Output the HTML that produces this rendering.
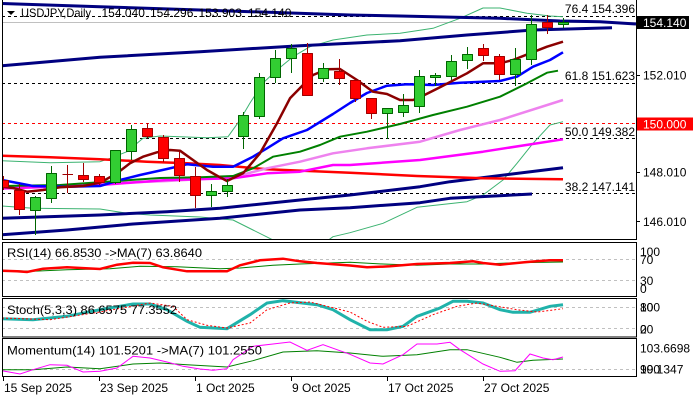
<!DOCTYPE html>
<html>
<head>
<meta charset="utf-8">
<style>
html,body{margin:0;padding:0;background:#fff;}
svg{display:block;}
text{font-family:"Liberation Sans",Arial,sans-serif;font-size:12px;fill:#000;}
</style>
</head>
<body>
<svg width="700" height="400" viewBox="0 0 700 400" xmlns="http://www.w3.org/2000/svg">
<defs>
<clipPath id="mc"><rect x="2" y="0" width="634" height="239.5"/></clipPath>
</defs>
<rect x="0" y="0" width="700" height="400" fill="#fff"/>

<g clip-path="url(#mc)" fill="none" stroke-linejoin="round">
  <!-- fib / level lines -->
  <line x1="2" y1="16.5" x2="636" y2="16.5" stroke="#000" stroke-dasharray="3,3"/>
  <line x1="2" y1="83.5" x2="636" y2="83.5" stroke="#000" stroke-dasharray="3,3"/>
  <line x1="2" y1="138.5" x2="636" y2="138.5" stroke="#000" stroke-dasharray="3,3"/>
  <line x1="2" y1="193.5" x2="636" y2="193.5" stroke="#000" stroke-dasharray="3,3"/>
  <line x1="2" y1="123.5" x2="636" y2="123.5" stroke="#FF0000" stroke-dasharray="3,3"/>
  <line x1="2" y1="22.5" x2="636" y2="22.5" stroke="#C0C0C0"/>

  <!-- bollinger-like thin lines -->
  <polyline stroke="#3CB371" stroke-width="1" points="2,160.7 50,162.7 100,161.7 110,158.3 127,151.7 143,138.3 160,136 207,137.7 228,136.7 240,120 250,103 263,83 277,70 293,56.7 310,46.7 333,40 367,35 400,33.3 433,28.3 460,18.3 483,8 500,8 527,13.3 550,16 563,16.7"/>
  <polyline stroke="#3CB371" stroke-width="1" points="2,206 33,208.3 100,209 127,213.3 150,215 200,217 233,220 253,230 273,240 290,250 315,250 333,236.7 350,232.7 383,223.3 417,207.3 467,201.7 483,195 503,180 517,163.3 533,143.3 550,125 563,121.7"/>

  <!-- navy channel lines -->
  <polyline stroke="#000080" stroke-width="3" points="2,3.5 100,6.7 200,10 350,15 400,16 500,18.3 560,21 600,21.7 636,24"/>
  <polyline stroke="#000080" stroke-width="3" points="2,65.7 100,57.3 200,51.7 300,45.7 350,43.3 400,40.7 467,35 533,30 612,27.7"/>
  <polyline stroke="#000080" stroke-width="3" points="2,218.3 100,215 167,211.7 220,208.3 300,200 350,195 420,186.7 450,181.7 563,167.7"/>
  <polyline stroke="#000080" stroke-width="3" points="2,234.7 67,230 133,224 220,218.3 300,210 350,207.7 420,202.7 450,198.3 532,194"/>

  <!-- MAs -->
  <polyline stroke="#FF0000" stroke-width="2.5" points="2,155.7 50,157.3 100,159.3 147,161.7 187,163.3 220,165 267,169.3 350,172.7 417,176 483,178.3 563,179.3"/>
  <polyline stroke="#EE82EE" stroke-width="2.5" points="2,188 100,183.5 167,181 233,177.3 267,168.3 300,161.7 333,153.3 367,148.3 420,141.7 460,130 500,120 563,100"/>
  <polyline stroke="#FF00FF" stroke-width="2.5" points="2,188.5 100,185 167,180 233,178.3 267,173.3 300,171.7 333,165 350,165 420,160 483,151.7 563,139.3"/>
  <polyline stroke="#008000" stroke-width="2" points="2,186 60,185 117,181 160,178 200,177.3 233,176 253,168.3 273,156.7 300,151.7 320,145 340,136.7 367,131.7 400,124 433,115 467,106.7 500,96.7 527,83.3 547,72.7 558,70.7"/>
  <polyline stroke="#0000FF" stroke-width="2.5" points="2,180 33,186 67,186.7 100,186 120,180 140,175 167,169 187,164.3 213,166.7 233,166.7 253,156.7 267,148.3 283,138.3 307,130 320,122 333,114 350,103 367,93 387,85.7 407,84.3 433,85 460,82.7 500,81 517,76.7 533,66.7 550,60 563,52.3"/>
  <polyline stroke="#8B0000" stroke-width="2.5" points="2,186.7 13,188 27,191.7 43,190 60,187.3 83,186 100,182.7 117,173.3 130,163.3 143,156.7 157,152.3 170,150 180,150.7 193,160 207,170 220,177.3 227,181 243,173.3 260,153.3 277,123.3 290,98.3 303,85 313,75 327,69.3 340,69 357,80 373,91.7 387,94 400,100 413,100 420,97.3 440,87.3 467,73.3 483,63.3 500,63.3 513,60 530,53.3 547,46.7 563,41.7"/>

  <!-- candles: wicks -->
  <g stroke="#A00000" stroke-width="1">
    <line x1="3.5" y1="176" x2="3.5" y2="190"/>
    <line x1="19.5" y1="184" x2="19.5" y2="215"/>
    <line x1="67.5" y1="165" x2="67.5" y2="193"/>
    <line x1="62.5" y1="174.5" x2="73" y2="174.5"/>
    <line x1="83.5" y1="163" x2="83.5" y2="182"/>
    <line x1="99.5" y1="174" x2="99.5" y2="185"/>
    <line x1="147.5" y1="123" x2="147.5" y2="138"/>
    <line x1="163.5" y1="135" x2="163.5" y2="162"/>
    <line x1="179.5" y1="151" x2="179.5" y2="182"/>
    <line x1="195.5" y1="167" x2="195.5" y2="208"/>
    <line x1="307.5" y1="43" x2="307.5" y2="96"/>
    <line x1="339.5" y1="59" x2="339.5" y2="85"/>
    <line x1="355.5" y1="80" x2="355.5" y2="102"/>
    <line x1="371.5" y1="98" x2="371.5" y2="119"/>
    <line x1="483.5" y1="44" x2="483.5" y2="61"/>
    <line x1="499.5" y1="54" x2="499.5" y2="80"/>
    <line x1="547.5" y1="15" x2="547.5" y2="34"/>
  </g>
  <g stroke="#006400" stroke-width="1">
    <line x1="35.5" y1="196" x2="35.5" y2="235"/>
    <line x1="51.5" y1="166" x2="51.5" y2="203"/>
    <line x1="115.5" y1="150" x2="115.5" y2="184"/>
    <line x1="131.5" y1="125" x2="131.5" y2="160"/>
    <line x1="211.5" y1="184" x2="211.5" y2="207"/>
    <line x1="227.5" y1="179" x2="227.5" y2="197"/>
    <line x1="243.5" y1="112" x2="243.5" y2="149"/>
    <line x1="259.5" y1="73" x2="259.5" y2="119"/>
    <line x1="275.5" y1="50" x2="275.5" y2="83"/>
    <line x1="291.5" y1="44" x2="291.5" y2="73"/>
    <line x1="323.5" y1="63" x2="323.5" y2="82"/>
    <line x1="387.5" y1="108" x2="387.5" y2="139"/>
    <line x1="403.5" y1="94" x2="403.5" y2="117"/>
    <line x1="419.5" y1="70" x2="419.5" y2="113"/>
    <line x1="435.5" y1="73" x2="435.5" y2="86"/>
    <line x1="451.5" y1="55" x2="451.5" y2="80"/>
    <line x1="467.5" y1="47" x2="467.5" y2="69"/>
    <line x1="515.5" y1="48" x2="515.5" y2="86"/>
    <line x1="531.5" y1="15" x2="531.5" y2="65"/>
    <line x1="563.5" y1="18" x2="563.5" y2="28"/>
  </g>
  <!-- candle bodies -->
  <g fill="#FF0000" stroke="#A00000" stroke-width="1">
    <rect x="-1.5" y="180.5" width="10" height="7"/>
    <rect x="14.5" y="190.5" width="10" height="19"/>
    <rect x="78.5" y="175.5" width="10" height="4"/>
    <rect x="94.5" y="176.5" width="10" height="6"/>
    <rect x="142.5" y="128.5" width="10" height="8"/>
    <rect x="158.5" y="137.5" width="10" height="21"/>
    <rect x="174.5" y="158.5" width="10" height="17"/>
    <rect x="190.5" y="176.5" width="10" height="19"/>
    <rect x="302.5" y="53.5" width="10" height="42"/>
    <rect x="334.5" y="71.5" width="10" height="7"/>
    <rect x="350.5" y="80.5" width="10" height="18"/>
    <rect x="366.5" y="98.5" width="10" height="15"/>
    <rect x="478.5" y="48.5" width="10" height="7"/>
    <rect x="494.5" y="56.5" width="10" height="18"/>
    <rect x="542.5" y="22.5" width="10" height="5"/>
  </g>
  <g fill="#32CD32" stroke="#006400" stroke-width="1">
    <rect x="30.5" y="197.5" width="10" height="13"/>
    <rect x="46.5" y="173.5" width="10" height="25"/>
    <rect x="110.5" y="150.5" width="10" height="32"/>
    <rect x="126.5" y="129.5" width="10" height="22"/>
    <rect x="206.5" y="191.5" width="10" height="4"/>
    <rect x="222.5" y="185.5" width="10" height="6"/>
    <rect x="238.5" y="115.5" width="10" height="21"/>
    <rect x="254.5" y="77.5" width="10" height="39"/>
    <rect x="270.5" y="58.5" width="10" height="19"/>
    <rect x="286.5" y="48.5" width="10" height="10"/>
    <rect x="318.5" y="68.5" width="10" height="10"/>
    <rect x="382.5" y="108.5" width="10" height="5"/>
    <rect x="398.5" y="105.5" width="10" height="7"/>
    <rect x="414.5" y="76.5" width="10" height="30"/>
    <rect x="430.5" y="75.5" width="10" height="2"/>
    <rect x="446.5" y="61.5" width="10" height="15"/>
    <rect x="462.5" y="54.5" width="10" height="6"/>
    <rect x="510.5" y="59.5" width="10" height="15"/>
    <rect x="526.5" y="24.5" width="10" height="35"/>
    <rect x="558.5" y="22.5" width="10" height="2"/>
  </g>
</g>

<!-- fib texts -->
<text x="635" y="13" text-anchor="end">76.4 154.396</text>
<text x="635" y="80" text-anchor="end">61.8 151.623</text>
<text x="635" y="136" text-anchor="end">50.0 149.382</text>
<text x="635" y="191" text-anchor="end">38.2 147.141</text>

<!-- header -->
<polygon points="7,11 15,11 11,15" fill="#000"/>
<text x="21" y="17" textLength="70" lengthAdjust="spacingAndGlyphs">USDJPY,Daily</text>
<text x="101.5" y="17">154.040</text>
<text x="150" y="17">154.296</text>
<text x="198.5" y="17">153.903</text>
<text x="248" y="17">154.140</text>

<!-- main frame -->
<g stroke="#000" stroke-width="1" fill="none">
  <line x1="2.5" y1="0" x2="2.5" y2="240"/>
  <line x1="636.5" y1="0" x2="636.5" y2="240"/>
  <line x1="2" y1="239.5" x2="637" y2="239.5"/>
  <line x1="636" y1="75.5" x2="640" y2="75.5"/>
  <line x1="636" y1="172.5" x2="640" y2="172.5"/>
  <line x1="636" y1="221.5" x2="640" y2="221.5"/>
</g>

<!-- right axis labels main -->
<text x="643" y="79.5">152.010</text>
<text x="643" y="176.5">148.010</text>
<text x="643" y="226">146.010</text>
<rect x="637" y="16" width="52" height="13" fill="#000"/>
<text x="643" y="27" style="fill:#fff">154.140</text>
<rect x="637" y="117.5" width="56" height="13" fill="#FF0000"/>
<text x="643" y="128.5" style="fill:#fff">150.000</text>

<!-- RSI panel -->
<line x1="2" y1="259.5" x2="636" y2="259.5" stroke="#C0C0C0" stroke-dasharray="3,3"/>
<line x1="2" y1="280.5" x2="636" y2="280.5" stroke="#C0C0C0" stroke-dasharray="3,3"/>
<polyline fill="none" stroke="#008000" stroke-width="1" points="2,270.3 33,271.3 67,269.7 110,268.7 140,266.3 177,266.7 220,268.7 240,268 273,265.3 300,264 350,262.2 383,264 417,265.3 450,264 483,264 517,262.7 563,262"/>
<polyline fill="none" stroke="#FF0000" stroke-width="2.5" points="2,270.7 17,271.3 27,272 43,268.7 67,267.3 100,269 117,264.7 133,262.7 150,263 163,267.3 187,271.3 227,271.3 240,265.3 260,260.3 283,258.7 300,261.3 317,263 350,265.5 367,267.3 390,266.3 417,264 450,263 473,261.3 483,263 500,264.7 527,262 550,260.3 563,260.3"/>
<rect x="2.5" y="242.5" width="634" height="54" fill="none" stroke="#000"/>
<text x="7" y="257" textLength="195" lengthAdjust="spacingAndGlyphs">RSI(14) 66.8530  -&gt;MA(7) 63.8640</text>
<text x="640" y="256">100</text>
<text x="640" y="264">70</text>
<text x="640" y="285">30</text>
<text x="640" y="293">0</text>

<!-- Stoch panel -->
<line x1="2" y1="307.5" x2="636" y2="307.5" stroke="#C0C0C0" stroke-dasharray="3,3"/>
<line x1="2" y1="328.5" x2="636" y2="328.5" stroke="#C0C0C0" stroke-dasharray="3,3"/>
<polyline fill="none" stroke="#20B2AA" stroke-width="3" points="2,318.7 33,319.7 67,316.3 100,309.7 133,304 150,304 167,309.7 187,321.3 200,327.3 227,328.7 250,314.7 267,303 283,300.7 317,304.7 333,309.7 350,319.7 370,329.7 387,329.7 403,326.3 417,316.3 440,308 453,301.3 467,301.3 483,303 500,309.7 513,312.3 530,312.3 550,306.3 563,304.7"/>
<polyline fill="none" stroke="#FF0000" stroke-width="1" stroke-dasharray="2,2" points="2,318 50,319.7 100,312 150,303 173,306.3 187,319.7 207,325.3 227,328 250,323 267,309.7 290,303 310,302 350,312 367,321.3 383,327.3 407,326.3 433,314.7 457,306.3 477,303 497,306.3 517,309.7 537,312 563,308.7"/>
<rect x="2.5" y="298.5" width="634" height="38.5" fill="none" stroke="#000"/>
<text x="7" y="314" textLength="170" lengthAdjust="spacingAndGlyphs">Stoch(5,3,3) 86.6575 77.3552</text>
<text x="640" y="311.5">100</text>
<text x="640" y="311.5">80</text>
<text x="640" y="333.5">20</text>
<text x="640" y="333.5">0</text>

<!-- Momentum panel -->
<line x1="2" y1="369.5" x2="636" y2="369.5" stroke="#C0C0C0" stroke-dasharray="3,3"/>
<polyline fill="none" stroke="#008000" stroke-width="1" points="2,369.7 33,369.7 67,367 100,368.7 133,364 160,363 187,364.7 227,367 253,360.7 283,352 317,350.7 350,353 383,356.3 417,354.7 450,349.7 467,349.7 500,357.3 517,362.3 533,360.3 563,359"/>
<polyline fill="none" stroke="#FF00FF" stroke-width="1" points="2,370.7 20,374 33,369.7 50,364.7 67,365.3 83,372 100,371.3 117,368 133,356.3 150,358 167,362 183,366.3 200,369 213,370.3 227,368.7 233,359.7 253,346.3 273,344 290,342 307,350.3 323,344.7 350,354.3 370,363 383,364 403,354.7 417,344 437,344 450,342.3 460,349.7 483,364 500,371.3 515,370.7 530,354 543,358 553,359.7 563,357"/>
<rect x="2.5" y="338.5" width="634" height="38" fill="none" stroke="#000"/>
<text x="7" y="354.5" textLength="255" lengthAdjust="spacingAndGlyphs">Momentum(14) 101.5201  -&gt;MA(7) 101.2550</text>
<text x="640" y="352.5">103.6698</text>
<text x="640" y="373.5">99.1347</text>
<text x="640" y="373.5">100</text>

<!-- x axis -->
<g stroke="#000" stroke-width="1">
  <line x1="3.5" y1="377" x2="3.5" y2="381"/>
  <line x1="99.5" y1="377" x2="99.5" y2="381"/>
  <line x1="195.5" y1="377" x2="195.5" y2="381"/>
  <line x1="291.5" y1="377" x2="291.5" y2="381"/>
  <line x1="387.5" y1="377" x2="387.5" y2="381"/>
  <line x1="483.5" y1="377" x2="483.5" y2="381"/>
</g>
<text x="4" y="392">15 Sep 2025</text>
<text x="100" y="392">23 Sep 2025</text>
<text x="196" y="392">1 Oct 2025</text>
<text x="292" y="392">9 Oct 2025</text>
<text x="388" y="392">17 Oct 2025</text>
<text x="484" y="392">27 Oct 2025</text>
</svg>
</body>
</html>
